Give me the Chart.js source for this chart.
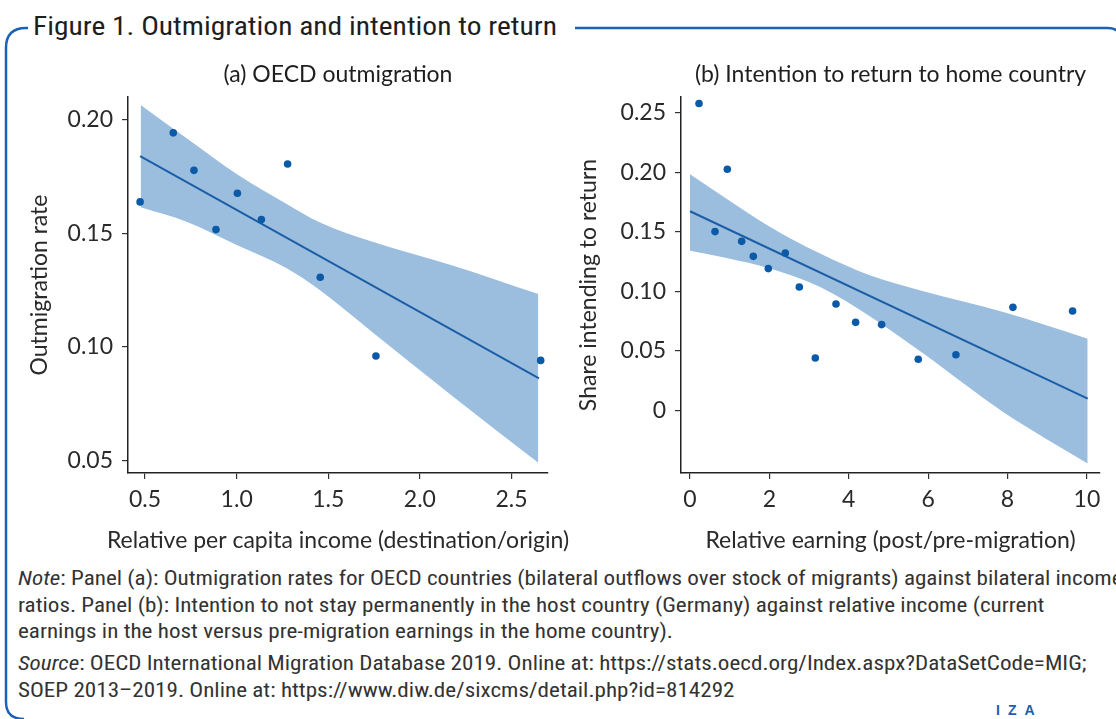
<!DOCTYPE html>
<html>
<head>
<meta charset="utf-8">
<script src="https://cdn.jsdelivr.net/npm/chart.js@4.4.1/dist/chart.umd.min.js"></script>
<style>
  html, body { margin: 0; padding: 0; background: #fff; }
  body { width: 1116px; height: 719px; position: relative; overflow: hidden; font-family: "Liberation Sans Narrow", "Roboto Condensed", "Liberation Sans", sans-serif; color: #2b2b2b; }
  #frame { position: absolute; left: 0; top: 0; }
  #fig-title { position: absolute; left: 33px; top: 11px; font-size: 26px; color: #1e1e1e; white-space: nowrap; transform: scaleX(1.134); transform-origin: 0 0; }
  #chartA { position: absolute; left: 0; top: 50px; }
  #chartB { position: absolute; left: 560px; top: 50px; }
  .notes { position: absolute; left: 18px; font-size: 20px; line-height: 26.5px; white-space: nowrap; color: #333; transform: scaleX(1.155); transform-origin: 0 0; }
  #note { top: 565px; }
  #source { top: 650px; }
  #iza { position: absolute; left: 996px; top: 702px; font-family: "Liberation Sans", sans-serif; font-weight: bold; font-size: 14px; color: #1a5fb0; letter-spacing: 8px; }
</style>
</head>
<body>
<svg id="frame" width="1116" height="719">
  <path d="M 28 28 L 26 28 Q 6 28 6 48 L 6 702 Q 6 719 24 719" fill="none" stroke="#1a62b4" stroke-width="2.5"/>
  <path d="M 575 28 L 1108 28 Q 1116 28 1120 34" fill="none" stroke="#1a62b4" stroke-width="2.5"/>
</svg>
<div id="fig-title">Figure 1. Outmigration and intention to return</div>
<canvas id="chartA" width="590" height="510"></canvas>
<canvas id="chartB" width="556" height="510"></canvas>
<div class="notes" id="note"><i>Note</i>: Panel (a): Outmigration rates for OECD countries (bilateral outflows over stock of migrants) against bilateral income<br>ratios. Panel (b): Intention to not stay permanently in the host country (Germany) against relative income (current<br>earnings in the host versus pre-migration earnings in the home country).</div>
<div class="notes" id="source"><i>Source</i>: OECD International Migration Database 2019. Online at: https://stats.oecd.org/Index.aspx?DataSetCode=MIG;<br>SOEP 2013–2019. Online at: https://www.diw.de/sixcms/detail.php?id=814292</div>
<div id="iza">IZA</div>
<script>
// panel (a) OECD outmigration
const incomeRatio = [0.473, 0.654, 0.767, 0.887, 1.004, 1.135, 1.278, 1.456, 1.760, 2.659];
const outmigRate = [0.1639, 0.1943, 0.1778, 0.1517, 0.1677, 0.1561, 0.1806, 0.1307, 0.0960, 0.0941];
const fitAX = [0.473, 2.65];
const fitAY = [0.1841, 0.0862];
const bandAX = [0.476, 0.727, 1.0, 1.273, 1.455, 1.746, 2.182, 2.646];
const bandAUpper = [0.2066, 0.1919, 0.1762, 0.1630, 0.1548, 0.1462, 0.1358, 0.1233];
const bandALower = [0.1615, 0.1552, 0.1449, 0.1347, 0.1250, 0.1062, 0.0781, 0.0490];
const ticksAX = [0.5, 1.0, 1.5, 2.0, 2.5];
const labelsAX = ['0.5', '1.0', '1.5', '2.0', '2.5'];
const ticksAY = [0.05, 0.10, 0.15, 0.20];
const labelsAY = ['0.05', '0.10', '0.15', '0.20'];

// panel (b) intention to return
const earningRatio = [0.227, 0.940, 0.630, 1.302, 1.595, 1.973, 2.401, 2.754, 3.157, 3.678, 4.173, 4.828, 5.751, 6.700, 8.136, 9.639];
const returnShare = [0.258, 0.2027, 0.1503, 0.1421, 0.1295, 0.1192, 0.1323, 0.1037, 0.0440, 0.0894, 0.0740, 0.0721, 0.0429, 0.0468, 0.0866, 0.0835];
const fitBX = [0, 10.02];
const fitBY = [0.1674, 0.0098];
const bandBX = [0, 0.92, 2.02, 3.28, 4.53, 5.88, 7.89, 10.02];
const bandBUpper = [0.1985, 0.178, 0.1542, 0.1318, 0.1135, 0.1001, 0.0827, 0.0603];
const bandBLower = [0.1343, 0.1281, 0.1192, 0.1037, 0.0792, 0.0477, -0.0014, -0.0448];
const ticksBX = [0, 2, 4, 6, 8, 10];
const labelsBX = ['0', '2', '4', '6', '8', '10'];
const ticksBY = [0, 0.05, 0.10, 0.15, 0.20, 0.25];
const labelsBY = ['0', '0.05', '0.10', '0.15', '0.20', '0.25'];

const dotColor = '#0b5aa8';
const lineColor = '#1b5ea6';
const bandColor = '#9bbedf';
const fontFamily = 'Lato, "Open Sans", sans-serif';

Chart.defaults.font.family = fontFamily;
Chart.defaults.color = '#2a2a2a';

// x axis title drawn by hand: the built-in one is squeezed to the axis width
const xTitlePlugin = {
    id: 'xTitle',
    afterDraw(chart, args, opts) {
        const { ctx, chartArea } = chart;
        ctx.save();
        ctx.font = '23px ' + fontFamily;
        ctx.fillStyle = '#2a2a2a';
        ctx.textAlign = 'center';
        ctx.textBaseline = 'middle';
        ctx.fillText(opts.text, (chartArea.left + chartArea.right) / 2, chart.height - 19.8);
        ctx.restore();
    }
};

function pts(xs, ys) {
    return xs.map((x, i) => ({ x: x, y: ys[i] }));
}

function makePanel(id, cfg) {
    const ctx = document.getElementById(id).getContext('2d');
    return new Chart(ctx, {
        type: 'scatter',
        data: {
            datasets: [
                { data: pts(cfg.px, cfg.py), backgroundColor: dotColor, borderWidth: 0, pointRadius: 3.8 },
                { type: 'line', data: pts(cfg.fx, cfg.fy), borderColor: lineColor, borderWidth: 2, pointRadius: 0, fill: false },
                { type: 'line', data: pts(cfg.bx, cfg.bu), borderWidth: 0, pointRadius: 0, backgroundColor: bandColor, fill: '+1', cubicInterpolationMode: 'monotone' },
                { type: 'line', data: pts(cfg.bx, cfg.bl), borderWidth: 0, pointRadius: 0, fill: false, cubicInterpolationMode: 'monotone' }
            ]
        },
        plugins: [xTitlePlugin],
        options: {
            responsive: false,
            animation: false,
            layout: { padding: { left: 0, right: cfg.padRight, top: 0, bottom: 0 } },
            plugins: {
                legend: { display: false },
                tooltip: { enabled: false },
                xTitle: { text: cfg.xtitle },
                title: {
                    display: true,
                    text: cfg.title,
                    fullSize: false,
                    color: '#1e1e1e',
                    font: { size: 23, weight: 'normal' },
                    padding: { top: 11, bottom: 8.4 }
                }
            },
            scales: {
                x: {
                    type: 'linear',
                    min: cfg.xmin, max: cfg.xmax,
                    afterBuildTicks: s => { s.ticks = cfg.tx.map(v => ({ value: v })); },
                    afterFit: s => { s.height = 87; },
                    ticks: { callback: (v, i) => cfg.lx[i], font: { size: 23 }, padding: 7, maxRotation: 0, color: '#2a2a2a' },
                    grid: { drawOnChartArea: false, drawTicks: true, tickLength: 6, color: '#333', lineWidth: 1.2 },
                    border: { display: true, color: '#222', width: 1.5 },
                    title: { display: false }
                },
                y: {
                    type: 'linear',
                    min: cfg.ymin, max: cfg.ymax,
                    afterBuildTicks: s => { s.ticks = cfg.ty.map(v => ({ value: v })); },
                    afterFit: s => { s.width = cfg.yWidth; },
                    ticks: { callback: (v, i) => cfg.ly[i], font: { size: 23 }, padding: 9, color: '#2a2a2a' },
                    grid: { drawOnChartArea: false, drawTicks: true, tickLength: 6, color: '#333', lineWidth: 1.2 },
                    border: { display: true, color: '#222', width: 1.5 },
                    title: { display: true, text: cfg.ytitle, font: { size: 23 }, color: '#2a2a2a', padding: { top: cfg.yTitlePad, bottom: 0 } }
                }
            }
        }
    });
}

makePanel('chartA', {
    title: '(a) OECD outmigration',
    xtitle: 'Relative per capita income (destination/origin)',
    ytitle: 'Outmigration rate',
    px: incomeRatio, py: outmigRate,
    fx: fitAX, fy: fitAY,
    bx: bandAX, bu: bandAUpper, bl: bandALower,
    tx: ticksAX, lx: labelsAX, ty: ticksAY, ly: labelsAY,
    xmin: 0.407, xmax: 2.699, ymin: 0.0445, ymax: 0.2101,
    yWidth: 128, yTitlePad: 26, padRight: 42
});

makePanel('chartB', {
    title: '(b) Intention to return to home country',
    xtitle: 'Relative earning (post/pre-migration)',
    ytitle: 'Share intending to return',
    px: earningRatio, py: returnShare,
    fx: fitBX, fy: fitBY,
    bx: bandBX, bu: bandBUpper, bl: bandBLower,
    tx: ticksBX, lx: labelsBX, ty: ticksBY, ly: labelsBY,
    xmin: -0.227, xmax: 10.33, ymin: -0.0527, ymax: 0.2635,
    yWidth: 121, yTitlePad: 15, padRight: 16
});
</script>
</body>
</html>
